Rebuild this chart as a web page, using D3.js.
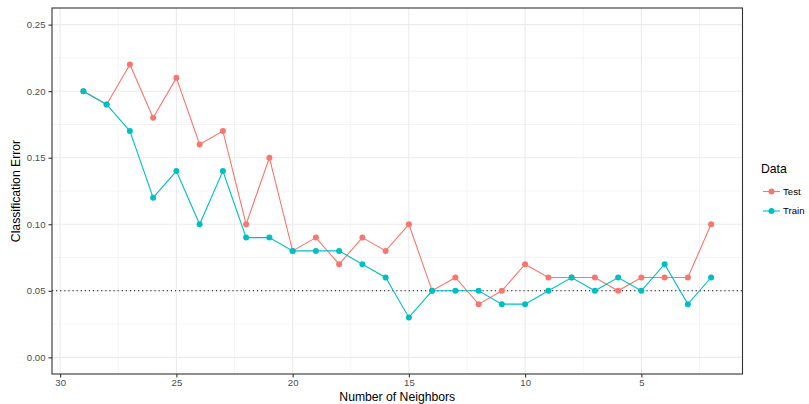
<!doctype html>
<html lang=en>
<head>
  <meta charset=utf-8>
  <title>Classification Error vs Number of Neighbors</title>
  <style>
    html, body { margin: 0; background: white; }
    svg { display: block; font-family: "Liberation Sans", Arial, sans-serif; }
    .tick text { fill: #4d4d4d; font-size: 9.6px; }
    .axis-title { fill: black; font-size: 12.2px; }
  </style>
  <script src="https://cdn.jsdelivr.net/npm/d3@7"></script>
</head>
<body>
<script>
  // data
  const neighbors = [29, 28, 27, 26, 25, 24, 23, 22, 21, 20, 19, 18, 17, 16, 15,
                     14, 13, 12, 11, 10, 9, 8, 7, 6, 5, 4, 3, 2]
  const testError = [0.20, 0.19, 0.22, 0.18, 0.21, 0.16, 0.17, 0.10, 0.15, 0.08, 0.09, 0.07, 0.09, 0.08, 0.10,
                     0.05, 0.06, 0.04, 0.05, 0.07, 0.06, 0.06, 0.06, 0.05, 0.06, 0.06, 0.06, 0.10]
  const trainError = [0.20, 0.19, 0.17, 0.12, 0.14, 0.10, 0.14, 0.09, 0.09, 0.08, 0.08, 0.08, 0.07, 0.06, 0.03,
                      0.05, 0.05, 0.05, 0.04, 0.04, 0.05, 0.06, 0.05, 0.06, 0.05, 0.07, 0.04, 0.06]
  const xTicks = [30, 25, 20, 15, 10, 5]
  const yTicks = [0, 0.05, 0.10, 0.15, 0.20, 0.25]
  const refLine = 0.05

  const series = [
    { name: 'Test', color: '#F8766D', values: testError },
    { name: 'Train', color: '#00BFC4', values: trainError },
  ]

  const width = 809
  const height = 404
  const panel = { left: 52, right: 742.5, top: 8, bottom: 374 }

  const svg = d3.select('body').append('svg')
    .attr('width', width)
    .attr('height', height)

  // x is reversed: 30 on the left
  const x = d3.scaleLinear()
    .domain([30.35, 0.65])
    .range([panel.left, panel.right])
  const y = d3.scaleLinear()
    .domain([-0.0125, 0.2625])
    .range([panel.bottom, panel.top])

  const grid = svg.append('g')
  const xMinor = [27.5, 22.5, 17.5, 12.5, 7.5, 2.5]
  const yMinor = [0.025, 0.075, 0.125, 0.175, 0.225]
  grid.selectAll('line.xminor').data(xMinor).enter().append('line')
    .attr('x1', d => x(d)).attr('x2', d => x(d))
    .attr('y1', panel.top).attr('y2', panel.bottom)
    .attr('stroke', '#ebebeb').attr('stroke-width', 0.55)
  grid.selectAll('line.yminor').data(yMinor).enter().append('line')
    .attr('y1', d => y(d)).attr('y2', d => y(d))
    .attr('x1', panel.left).attr('x2', panel.right)
    .attr('stroke', '#ebebeb').attr('stroke-width', 0.55)
  grid.selectAll('line.xmajor').data(xTicks).enter().append('line')
    .attr('x1', d => x(d)).attr('x2', d => x(d))
    .attr('y1', panel.top).attr('y2', panel.bottom)
    .attr('stroke', '#ebebeb').attr('stroke-width', 1.1)
  grid.selectAll('line.ymajor').data(yTicks).enter().append('line')
    .attr('y1', d => y(d)).attr('y2', d => y(d))
    .attr('x1', panel.left).attr('x2', panel.right)
    .attr('stroke', '#ebebeb').attr('stroke-width', 1.1)

  // dotted reference line
  svg.append('line')
    .attr('x1', panel.left).attr('x2', panel.right)
    .attr('y1', y(refLine)).attr('y2', y(refLine))
    .attr('stroke', 'black').attr('stroke-width', 1.1)
    .attr('stroke-dasharray', '1.1 3')

  const line = d3.line()
    .x((d, i) => x(neighbors[i]))
    .y(d => y(d))

  for (const s of series) {
    const g = svg.append('g')
    g.append('path')
      .datum(s.values)
      .attr('fill', 'none')
      .attr('stroke', s.color)
      .attr('stroke-width', 1.1)
      .attr('d', line)
    g.selectAll('circle').data(s.values).enter().append('circle')
      .attr('cx', (d, i) => x(neighbors[i]))
      .attr('cy', d => y(d))
      .attr('r', 3)
      .attr('fill', s.color)
  }

  // panel border
  svg.append('rect')
    .attr('x', panel.left).attr('y', panel.top)
    .attr('width', panel.right - panel.left)
    .attr('height', panel.bottom - panel.top)
    .attr('fill', 'none').attr('stroke', '#333333').attr('stroke-width', 1.1)

  const gx = svg.append('g')
    .attr('transform', 'translate(0,' + panel.bottom + ')')
    .call(d3.axisBottom(x).tickValues(xTicks).tickSize(3.5).tickPadding(2).tickFormat(d3.format('d')))
  const gy = svg.append('g')
    .attr('transform', 'translate(' + panel.left + ',0)')
    .call(d3.axisLeft(y).tickValues(yTicks).tickSize(3.5).tickPadding(3).tickFormat(d3.format('.2f')))
  for (const ax of [gx, gy]) {
    ax.select('.domain').remove()
    ax.selectAll('.tick line').attr('stroke', '#333333').attr('stroke-width', 1.1)
    ax.selectAll('.tick text').attr('font-family', null).attr('font-size', null)
  }

  svg.append('text')
    .attr('class', 'axis-title')
    .attr('x', (panel.left + panel.right) / 2)
    .attr('y', 401)
    .attr('text-anchor', 'middle')
    .text('Number of Neighbors')
  svg.append('text')
    .attr('class', 'axis-title')
    .attr('transform', 'translate(20,' + ((panel.top + panel.bottom) / 2) + ') rotate(-90)')
    .attr('text-anchor', 'middle')
    .text('Classification Error')

  // legend
  const legend = svg.append('g').attr('transform', 'translate(761,0)')
  legend.append('text')
    .attr('x', 0).attr('y', 173)
    .attr('font-size', 12.2)
    .text('Data')
  const rows = legend.selectAll('g.row').data(series).enter().append('g')
    .attr('transform', (d, i) => 'translate(0,' + (191.5 + i * 19.5) + ')')
  rows.append('line')
    .attr('x1', 2).attr('x2', 19)
    .attr('stroke', d => d.color).attr('stroke-width', 1.1)
  rows.append('circle')
    .attr('cx', 10.5).attr('r', 3)
    .attr('fill', d => d.color)
  rows.append('text')
    .attr('x', 22).attr('dy', '0.35em')
    .attr('font-size', 9.6)
    .attr('fill', 'black')
    .text(d => d.name)
</script>
</body>
</html>
